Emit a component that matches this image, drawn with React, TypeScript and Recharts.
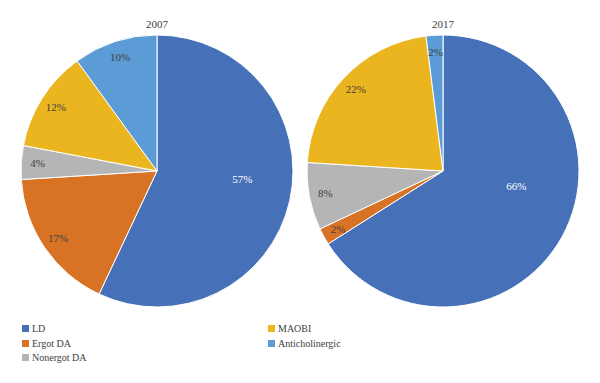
import { PieChart, Pie, Cell } from 'recharts';

const categories = ['LD', 'Ergot DA', 'Nonergot DA', 'MAOBI', 'Anticholinergic'];
const values2007 = [57, 17, 4, 12, 10];
const values2017 = [66, 2, 8, 22, 2];
const titles = ['2007', '2017'];
const colors = ['#4670B8', '#D87326', '#B5B5B5', '#EAB51E', '#5B9BD6'];

const font = '"Liberation Serif", "Times New Roman", "DejaVu Serif", serif';
const RAD = Math.PI / 180;

const toRows = (vals: number[]) => categories.map((name, i) => ({ name, value: vals[i] }));

// big slices get their label pulled in toward the horizontal, like Excel's best fit
function renderLabel(props: any) {
  const { cx, cy, midAngle, outerRadius, value, index } = props;
  const big = value > 50;
  const angle = big ? midAngle * 0.4 : midAngle;
  const r = outerRadius * (big ? (value > 60 ? 0.55 : 0.63) : 0.88);
  const x = cx + r * Math.cos(-angle * RAD);
  const y = cy + r * Math.sin(-angle * RAD);
  return (
    <text
      x={x}
      y={y}
      textAnchor="middle"
      dominantBaseline="central"
      fill={index === 0 ? '#ffffff' : '#404040'}
      fontSize={11}
      fontFamily={font}
    >
      {value}%
    </text>
  );
}

export default function App() {
  const pies = [
    { data: toRows(values2007), cx: 157, title: titles[0] },
    { data: toRows(values2017), cx: 443, title: titles[1] },
  ];
  const legendLeft = categories.slice(0, 3).map((c, i) => ({ c, i }));
  const legendRight = categories.slice(3).map((c, i) => ({ c, i: i + 3 }));

  return (
    <div style={{ position: 'absolute', left: 0, top: 0, width: 600, height: 383, background: '#fff', fontFamily: font }}>
      <PieChart width={600} height={383} margin={{ top: 0, right: 0, bottom: 0, left: 0 }}>
        {pies.map((p) => (
          <Pie
            key={p.title}
            data={p.data}
            dataKey="value"
            nameKey="name"
            cx={p.cx}
            cy={171}
            outerRadius={136}
            startAngle={90}
            endAngle={-270}
            stroke="#ffffff"
            strokeWidth={1}
            label={renderLabel}
            labelLine={false}
            isAnimationActive={false}
          >
            {p.data.map((d, i) => (
              <Cell key={d.name} fill={colors[i]} />
            ))}
          </Pie>
        ))}
      </PieChart>
      {pies.map((p) => (
        <div
          key={p.title}
          style={{ position: 'absolute', left: p.cx - 30, top: 18, width: 60, textAlign: 'center', fontSize: 11, color: '#404040' }}
        >
          {p.title}
        </div>
      ))}
      {[{ items: legendLeft, x: 22 }, { items: legendRight, x: 268 }].map((col, k) => (
        <div key={k} style={{ position: 'absolute', left: col.x, top: 321 }}>
          {col.items.map(({ c, i }) => (
            <div key={c} style={{ display: 'flex', alignItems: 'center', height: 14.7, fontSize: 10, color: '#404040' }}>
              <span style={{ display: 'inline-block', width: 7, height: 7, background: colors[i], marginRight: 3 }} />
              <span>{c}</span>
            </div>
          ))}
        </div>
      ))}
    </div>
  );
}
